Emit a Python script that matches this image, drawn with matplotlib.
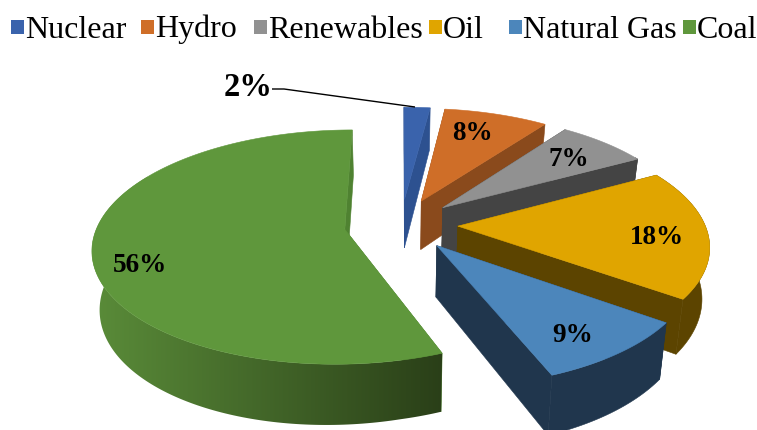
import numpy as np
import matplotlib
matplotlib.use("Agg")
import matplotlib.pyplot as plt
from matplotlib.colors import LinearSegmentedColormap
from matplotlib.patches import Polygon, Rectangle

plt.rcParams['font.family'] = ['Liberation Serif', 'DejaVu Serif']

# Share of each energy source, clockwise from twelve o'clock
categories = ["Nuclear", "Hydro", "Renewables", "Oil", "Natural Gas", "Coal"]
shares = [2, 8, 7, 18, 9, 56]
top_colors = ["#3A63AC", "#CF6E28", "#919191", "#E0A500", "#4C86BB", "#5F973C"]
side_colors = ["#2D5190", "#8A4A1C", "#444444", "#5C4400", "#20364D", "#4F8231"]
legend_text_x = [25, 155, 268, 443, 523, 697]
label_xy = [(248, 87), (472, 133), (569, 159), (657, 237), (573, 336), (140, 265)]
label_pt = [23.5, 19.5, 19.5, 19.5, 19.5, 19.5]

# Projection of the tilted pie onto the page
CX, CY = 401.0, 224.5
RX, RY = 247.0, 113.0
PERSP = 0.15
DEPTH = 50.0
BASE_NARROW = 0.975
BASE_SAG = 6.0
EXPLODE = 0.23

coal_wall = LinearSegmentedColormap.from_list("coal_wall", ["#5A8C39", "#2A3F18"])


def project(u, v, base=False):
    s = 1.0 / (1.0 + PERSP * v)
    x = RX * u * s
    y = CY - RY * v * s
    if base:
        return CX + x * BASE_NARROW, y + DEPTH * s + BASE_SAG * max(-u, 0.0)
    return CX + x, y


fig = plt.figure(figsize=(7.57, 4.30), dpi=100)
ax = fig.add_axes([0, 0, 1, 1])

edges = np.cumsum([0] + shares) / sum(shares) * 2 * np.pi
z = 1


def add_poly(points, color):
    global z
    patch = Polygon(points, closed=True, fc=color, ec=color, lw=0.4, zorder=z)
    ax.add_patch(patch)
    z += 1
    return patch


# Slices are painted back to front so nearer ones overlap farther ones
for i in [0, 1, 2, 5, 3, 4]:
    a0, a1 = edges[i], edges[i + 1]
    mid = (a0 + a1) / 2
    ou, ov = EXPLODE * np.sin(mid), EXPLODE * np.cos(mid)
    th = np.linspace(a0, a1, max(int((a1 - a0) * 60), 6))
    u = ou + np.sin(th)
    v = ov + np.cos(th)

    def radial_face(a):
        eu, ev = ou + np.sin(a), ov + np.cos(a)
        return [project(ou, ov), project(eu, ev), project(eu, ev, True), project(ou, ov, True)]

    rear, front = [], []
    (front if np.sin(a0) < 0 else rear).append(radial_face(a0))
    (front if np.sin(a1) > 0 else rear).append(radial_face(a1))
    for quad in rear:
        add_poly(quad, side_colors[i])

    # Outer wall: flat colour, except coal which darkens toward the front edge
    keep = np.cos(th) < 0.5
    if keep.sum() >= 2:
        wu, wv = u[keep], v[keep]
        wall = [project(a, b) for a, b in zip(wu, wv)]
        wall += [project(a, b, True) for a, b in zip(wu[::-1], wv[::-1])]
        if categories[i] == "Coal":
            patch = Polygon(wall, closed=True, fc="none", ec="none", zorder=z)
            ax.add_patch(patch)
            xs = [p[0] for p in wall]
            ys = [p[1] for p in wall]
            img = ax.imshow(np.linspace(0, 1, 256).reshape(1, -1), cmap=coal_wall, aspect="auto",
                            extent=(min(xs), max(xs), max(ys), min(ys)), zorder=z,
                            interpolation="bilinear")
            img.set_clip_path(patch)
            z += 1
        else:
            add_poly(wall, side_colors[i])

    for quad in front:
        add_poly(quad, side_colors[i])

    top = [project(ou, ov)] + [project(a, b) for a, b in zip(u, v)]
    add_poly(top, top_colors[i])

ax.set_xlim(0, 757)
ax.set_ylim(430, 0)
ax.axis("off")

# Legend row
for name, tx, color in zip(categories, legend_text_x, top_colors):
    ax.add_patch(Rectangle((tx - 14.5, 20), 13.5, 13.5, fc=color, ec="none", zorder=z))
    ax.text(tx, 37.5, name, fontsize=23, color="black", ha="left", va="baseline", zorder=z)

# Value labels with a leader line for the smallest slice
for share, (lx, ly), pt in zip(shares, label_xy, label_pt):
    ax.text(lx, ly, f"{share}%", fontsize=pt, fontweight="bold", color="black",
            ha="center", va="center", zorder=z + 1)
ax.plot([272, 284, 415], [89, 89, 107], color="black", lw=1.0, solid_capstyle="butt", zorder=z + 1)

fig.savefig("out.png", dpi=100)
